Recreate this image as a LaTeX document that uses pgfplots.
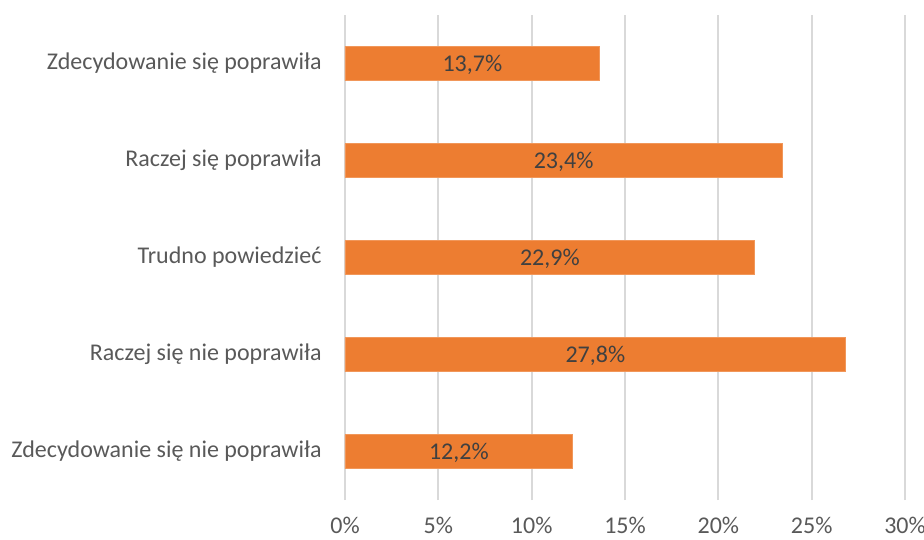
\documentclass[border=0pt]{standalone}
\usepackage{pgfplots}
\pgfplotsset{compat=1.18}
\usepackage{fontspec}
\setmainfont{Carlito}
\definecolor{barorange}{HTML}{ED7D31}
\definecolor{bartxt}{HTML}{404040}
\definecolor{ticktxt}{HTML}{595959}
\definecolor{gridgray}{HTML}{D9D9D9}
\begin{document}
\begin{tikzpicture}
\begin{axis}[
  scale only axis,
  width=420pt, height=363.75pt,
  xmin=0, xmax=30, ymin=-0.5, ymax=4.5,
  xtick={0,5,...,30},
  xticklabels={0\%,5\%,10\%,15\%,20\%,25\%,30\%},
  ytick={0,1,2,3,4},
  yticklabels={Zdecydowanie się nie poprawiła, Raczej się nie poprawiła, Trudno powiedzieć, Raczej się poprawiła, Zdecydowanie się poprawiła},
  axis line style={draw=none},
  major tick length=0pt,
  xmajorgrids, grid style={gridgray, line width=1.5pt},
  tick label style={font=\fontsize{18}{21}\selectfont, text=ticktxt},
  xticklabel style={yshift=-9pt},
  yticklabel style={xshift=-14pt},
  clip=false,
]
\addplot[xbar, bar width=25.5pt, fill=barorange, draw=barorange!80!white, line width=0.5pt]
  coordinates {(12.2,0) (26.82,1) (21.95,2) (23.42,3) (13.65,4)};
\addplot[draw=none, mark=none, nodes near coords, point meta=explicit symbolic,
  nodes near coords align=center,
  every node near coord/.append style={font=\fontsize{18}{21}\selectfont, text=bartxt, yshift=-1pt}]
  table[meta=lab] {
x y lab
6.1 0 {12,2\%}
13.41 1 {27,8\%}
10.975 2 {22,9\%}
11.71 3 {23,4\%}
6.825 4 {13,7\%}
};
\end{axis}
\pgfresetboundingbox
\path (current axis.south west) ++(-258.75pt,-29.25pt) coordinate (bbA);
\path (current axis.north east) ++(14.25pt,11.25pt) coordinate (bbB);
\useasboundingbox (bbA) rectangle (bbB);
\end{tikzpicture}
\end{document}
